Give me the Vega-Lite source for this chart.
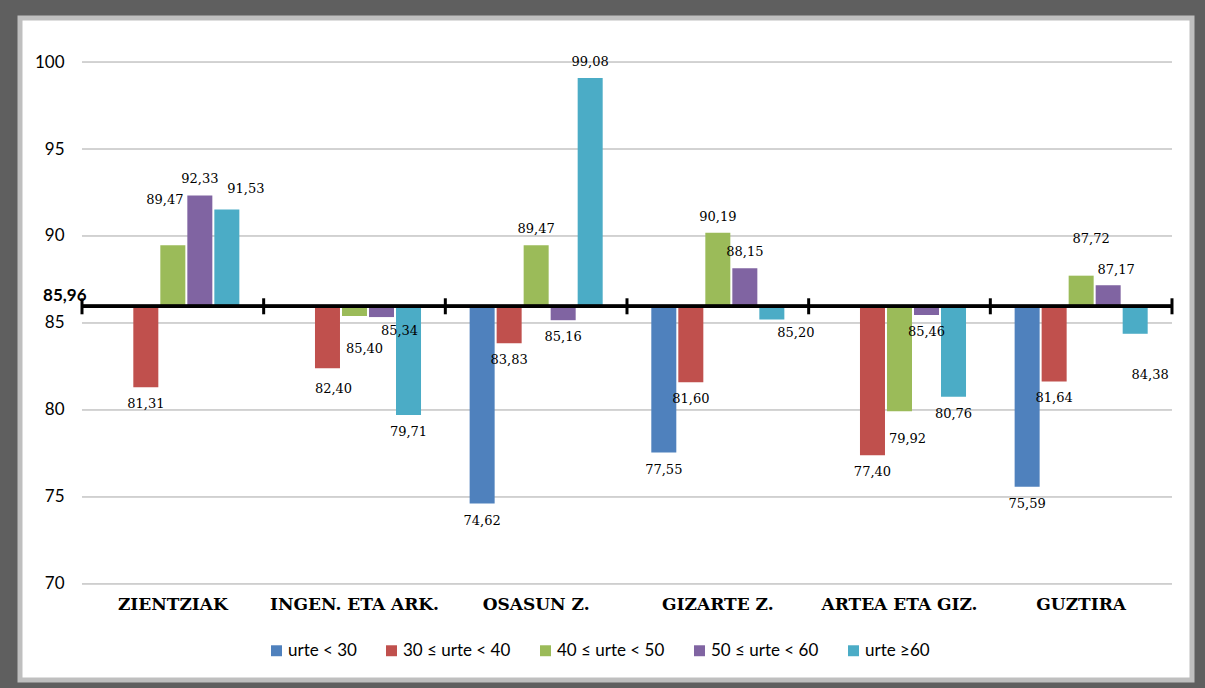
{
  "$schema": "https://vega.github.io/schema/vega-lite/v6.json",
  "width": 1172,
  "height": 662,
  "autosize": "none",
  "padding": {"left": 20, "top": 18, "right": 13, "bottom": 8},
  "background": "#5f5f5f",
  "config": {
    "view": {"fill": "white", "stroke": "#bfbfbf", "strokeWidth": 5},
    "locale": {"number": {"decimal": ",", "thousands": ".", "grouping": [3], "currency": ["", " €"]}},
    "font": "Lato",
    "text": {"font": "DejaVu Serif", "fontSize": 13, "color": "black", "baseline": "middle"}
  },
  "datasets": {
    "bars": [
      {"cat": "ZIENTZIAK", "series": "30 ≤ urte < 40", "v": 81.31},
      {"cat": "ZIENTZIAK", "series": "40 ≤ urte < 50", "v": 89.47},
      {"cat": "ZIENTZIAK", "series": "50 ≤ urte < 60", "v": 92.33},
      {"cat": "ZIENTZIAK", "series": "urte ≥60", "v": 91.53},
      {"cat": "INGEN. ETA ARK.", "series": "30 ≤ urte < 40", "v": 82.40},
      {"cat": "INGEN. ETA ARK.", "series": "40 ≤ urte < 50", "v": 85.40},
      {"cat": "INGEN. ETA ARK.", "series": "50 ≤ urte < 60", "v": 85.34},
      {"cat": "INGEN. ETA ARK.", "series": "urte ≥60", "v": 79.71},
      {"cat": "OSASUN Z.", "series": "urte < 30", "v": 74.62},
      {"cat": "OSASUN Z.", "series": "30 ≤ urte < 40", "v": 83.83},
      {"cat": "OSASUN Z.", "series": "40 ≤ urte < 50", "v": 89.47},
      {"cat": "OSASUN Z.", "series": "50 ≤ urte < 60", "v": 85.16},
      {"cat": "OSASUN Z.", "series": "urte ≥60", "v": 99.08},
      {"cat": "GIZARTE Z.", "series": "urte < 30", "v": 77.55},
      {"cat": "GIZARTE Z.", "series": "30 ≤ urte < 40", "v": 81.60},
      {"cat": "GIZARTE Z.", "series": "40 ≤ urte < 50", "v": 90.19},
      {"cat": "GIZARTE Z.", "series": "50 ≤ urte < 60", "v": 88.15},
      {"cat": "GIZARTE Z.", "series": "urte ≥60", "v": 85.20},
      {"cat": "ARTEA ETA GIZ.", "series": "30 ≤ urte < 40", "v": 77.40},
      {"cat": "ARTEA ETA GIZ.", "series": "40 ≤ urte < 50", "v": 79.92},
      {"cat": "ARTEA ETA GIZ.", "series": "50 ≤ urte < 60", "v": 85.46},
      {"cat": "ARTEA ETA GIZ.", "series": "urte ≥60", "v": 80.76},
      {"cat": "GUZTIRA", "series": "urte < 30", "v": 75.59},
      {"cat": "GUZTIRA", "series": "30 ≤ urte < 40", "v": 81.64},
      {"cat": "GUZTIRA", "series": "40 ≤ urte < 50", "v": 87.72},
      {"cat": "GUZTIRA", "series": "50 ≤ urte < 60", "v": 87.17},
      {"cat": "GUZTIRA", "series": "urte ≥60", "v": 84.38}
    ],
    "grid": [{"g": 70}, {"g": 75}, {"g": 80}, {"g": 85}, {"g": 90}, {"g": 95}, {"g": 100}],
    "cats": [{"cat": "ZIENTZIAK"}, {"cat": "INGEN. ETA ARK."}, {"cat": "OSASUN Z."}, {"cat": "GIZARTE Z."}, {"cat": "ARTEA ETA GIZ."}, {"cat": "GUZTIRA"}]
  },
  "layer": [
    {
      "data": {"name": "bars"},
      "mark": {"type": "bar", "opacity": 0},
      "encoding": {
        "x": {
          "field": "cat", "type": "nominal",
          "scale": {"domain": ["ZIENTZIAK", "INGEN. ETA ARK.", "OSASUN Z.", "GIZARTE Z.", "ARTEA ETA GIZ.", "GUZTIRA"], "paddingInner": 0, "paddingOuter": 0.2257, "align": 0.756},
          "axis": {"title": null, "orient": "bottom", "offset": -96, "domain": false, "ticks": false, "grid": false, "labelPadding": 12, "labelFont": "DejaVu Serif", "labelFontWeight": "bold", "labelFontSize": 17, "labelColor": "black", "labelAngle": 0, "labelLimit": 400, "labelOverlap": false}
        },
        "xOffset": {
          "field": "series", "type": "nominal",
          "scale": {"domain": ["urte < 30", "30 ≤ urte < 40", "40 ≤ urte < 50", "50 ≤ urte < 60", "urte ≥60"], "paddingInner": 0.074, "paddingOuter": 0.9}
        },
        "y": {
          "field": "v", "type": "quantitative",
          "scale": {"domain": [64.48, 102.53], "nice": false, "zero": false},
          "axis": {
            "title": null, "values": [70, 75, 80, 85, 85.96, 90, 95, 100], "offset": -62, "grid": false, "domain": false, "ticks": false,
            "labelOverlap": false, "labelFont": "Lato", "labelColor": "black",
            "labelExpr": "datum.value == 85.96 ? '85,96' : format(datum.value, 'd')",
            "labelFontSize": {"condition": {"test": "datum.value == 85.96", "value": 17}, "value": 17},
            "labelFontWeight": {"condition": {"test": "datum.value == 85.96", "value": "bold"}, "value": "normal"},
            "labelPadding": {"condition": {"test": "datum.value == 85.96", "value": -4}, "value": 18},
            "labelOffset": {"condition": {"test": "datum.value == 85.96", "value": -11}, "value": 0}
          }
        },
        "y2": {"datum": 85.96}
      }
    },
    {
      "data": {"name": "grid"},
      "mark": {"type": "rule", "color": "#a6a6a6", "strokeWidth": 1},
      "encoding": {
        "y": {"field": "g", "type": "quantitative"},
        "x": {"datum": "ZIENTZIAK", "type": "nominal", "bandPosition": 0},
        "x2": {"datum": "GUZTIRA", "bandPosition": 1}
      }
    },
    {
      "data": {"name": "bars"},
      "mark": {"type": "bar"},
      "encoding": {
        "x": {"field": "cat", "type": "nominal"},
        "xOffset": {"field": "series", "type": "nominal"},
        "y": {"field": "v", "type": "quantitative"},
        "y2": {"datum": 85.96},
        "color": {
          "field": "series", "type": "nominal",
          "scale": {"domain": ["urte < 30", "30 ≤ urte < 40", "40 ≤ urte < 50", "50 ≤ urte < 60", "urte ≥60"], "range": ["#4f81bd", "#c0504d", "#9bbb59", "#8064a2", "#4bacc6"]},
          "legend": {"orient": "none", "legendX": 248, "legendY": 624, "direction": "horizontal", "title": null, "symbolType": "square", "symbolSize": 120, "symbolStrokeWidth": 0, "labelFont": "Lato", "labelFontSize": 17, "labelColor": "black", "columnPadding": 26, "labelOffset": 3, "padding": 0}
        }
      }
    },
    {
      "data": {"name": "cats"},
      "mark": {"type": "rule", "color": "black", "strokeWidth": 3},
      "encoding": {
        "y": {"datum": 85.96, "type": "quantitative"},
        "x": {"datum": "ZIENTZIAK", "type": "nominal", "bandPosition": 0},
        "x2": {"datum": "GUZTIRA", "bandPosition": 1}
      }
    },
    {
      "data": {"name": "cats"},
      "mark": {"type": "rule", "color": "black", "strokeWidth": 3},
      "encoding": {
        "x": {"field": "cat", "type": "nominal", "bandPosition": 0},
        "y": {"datum": 85.5, "type": "quantitative"},
        "y2": {"datum": 86.42}
      }
    },
    {
      "data": {"name": "cats"},
      "transform": [{"filter": "datum.cat == 'GUZTIRA'"}],
      "mark": {"type": "rule", "color": "black", "strokeWidth": 3},
      "encoding": {
        "x": {"field": "cat", "type": "nominal", "bandPosition": 1},
        "y": {"datum": 85.5, "type": "quantitative"},
        "y2": {"datum": 86.42}
      }
    },
    {
      "data": {"name": "bars"},
      "transform": [{"filter": "datum.v > 85.96 && indexof(['ZIENTZIAK|urte ≥60', 'ZIENTZIAK|40 ≤ urte < 50', 'GUZTIRA|40 ≤ urte < 50', 'GUZTIRA|50 ≤ urte < 60'], datum.cat + '|' + datum.series) < 0"}],
      "mark": {"type": "text", "dy": -16},
      "encoding": {
        "x": {"field": "cat", "type": "nominal"},
        "xOffset": {"field": "series", "type": "nominal"},
        "y": {"field": "v", "type": "quantitative"},
        "text": {"field": "v", "type": "quantitative", "format": ".2f"}
      }
    },
    {
      "data": {"name": "bars"},
      "transform": [{"filter": "datum.v < 85.96 && indexof(['INGEN. ETA ARK.|30 ≤ urte < 40', 'INGEN. ETA ARK.|40 ≤ urte < 50', 'INGEN. ETA ARK.|50 ≤ urte < 60', 'ARTEA ETA GIZ.|40 ≤ urte < 50', 'GUZTIRA|urte ≥60', 'GIZARTE Z.|urte ≥60'], datum.cat + '|' + datum.series) < 0"}],
      "mark": {"type": "text", "dy": 17},
      "encoding": {
        "x": {"field": "cat", "type": "nominal"},
        "xOffset": {"field": "series", "type": "nominal"},
        "y": {"field": "v", "type": "quantitative"},
        "text": {"field": "v", "type": "quantitative", "format": ".2f"}
      }
    },
    {
      "data": {"name": "bars"},
      "transform": [{"filter": "datum.cat == 'ZIENTZIAK' && datum.series == 'urte ≥60'"}],
      "mark": {"type": "text", "dx": 19, "dy": -20},
      "encoding": {
        "x": {"field": "cat", "type": "nominal"},
        "xOffset": {"field": "series", "type": "nominal"},
        "y": {"field": "v", "type": "quantitative"},
        "text": {"field": "v", "type": "quantitative", "format": ".2f"}
      }
    },
    {
      "data": {"name": "bars"},
      "transform": [{"filter": "datum.cat == 'ZIENTZIAK' && datum.series == '40 ≤ urte < 50'"}],
      "mark": {"type": "text", "dx": -8, "dy": -45},
      "encoding": {
        "x": {"field": "cat", "type": "nominal"},
        "xOffset": {"field": "series", "type": "nominal"},
        "y": {"field": "v", "type": "quantitative"},
        "text": {"field": "v", "type": "quantitative", "format": ".2f"}
      }
    },
    {
      "data": {"name": "bars"},
      "transform": [{"filter": "datum.cat == 'GUZTIRA' && datum.series == '40 ≤ urte < 50'"}],
      "mark": {"type": "text", "dx": 10, "dy": -37},
      "encoding": {
        "x": {"field": "cat", "type": "nominal"},
        "xOffset": {"field": "series", "type": "nominal"},
        "y": {"field": "v", "type": "quantitative"},
        "text": {"field": "v", "type": "quantitative", "format": ".2f"}
      }
    },
    {
      "data": {"name": "bars"},
      "transform": [{"filter": "datum.cat == 'GUZTIRA' && datum.series == '50 ≤ urte < 60'"}],
      "mark": {"type": "text", "dx": 8, "dy": -15},
      "encoding": {
        "x": {"field": "cat", "type": "nominal"},
        "xOffset": {"field": "series", "type": "nominal"},
        "y": {"field": "v", "type": "quantitative"},
        "text": {"field": "v", "type": "quantitative", "format": ".2f"}
      }
    },
    {
      "data": {"name": "bars"},
      "transform": [{"filter": "datum.cat == 'INGEN. ETA ARK.' && datum.series == '30 ≤ urte < 40'"}],
      "mark": {"type": "text", "dx": 6, "dy": 21},
      "encoding": {
        "x": {"field": "cat", "type": "nominal"},
        "xOffset": {"field": "series", "type": "nominal"},
        "y": {"field": "v", "type": "quantitative"},
        "text": {"field": "v", "type": "quantitative", "format": ".2f"}
      }
    },
    {
      "data": {"name": "bars"},
      "transform": [{"filter": "datum.cat == 'INGEN. ETA ARK.' && datum.series == '40 ≤ urte < 50'"}],
      "mark": {"type": "text", "dx": 10, "dy": 33},
      "encoding": {
        "x": {"field": "cat", "type": "nominal"},
        "xOffset": {"field": "series", "type": "nominal"},
        "y": {"field": "v", "type": "quantitative"},
        "text": {"field": "v", "type": "quantitative", "format": ".2f"}
      }
    },
    {
      "data": {"name": "bars"},
      "transform": [{"filter": "datum.cat == 'INGEN. ETA ARK.' && datum.series == '50 ≤ urte < 60'"}],
      "mark": {"type": "text", "dx": 18, "dy": 14},
      "encoding": {
        "x": {"field": "cat", "type": "nominal"},
        "xOffset": {"field": "series", "type": "nominal"},
        "y": {"field": "v", "type": "quantitative"},
        "text": {"field": "v", "type": "quantitative", "format": ".2f"}
      }
    },
    {
      "data": {"name": "bars"},
      "transform": [{"filter": "datum.cat == 'ARTEA ETA GIZ.' && datum.series == '40 ≤ urte < 50'"}],
      "mark": {"type": "text", "dx": 8, "dy": 28},
      "encoding": {
        "x": {"field": "cat", "type": "nominal"},
        "xOffset": {"field": "series", "type": "nominal"},
        "y": {"field": "v", "type": "quantitative"},
        "text": {"field": "v", "type": "quantitative", "format": ".2f"}
      }
    },
    {
      "data": {"name": "bars"},
      "transform": [{"filter": "datum.cat == 'GUZTIRA' && datum.series == 'urte ≥60'"}],
      "mark": {"type": "text", "dx": 15, "dy": 41},
      "encoding": {
        "x": {"field": "cat", "type": "nominal"},
        "xOffset": {"field": "series", "type": "nominal"},
        "y": {"field": "v", "type": "quantitative"},
        "text": {"field": "v", "type": "quantitative", "format": ".2f"}
      }
    },
    {
      "data": {"name": "bars"},
      "transform": [{"filter": "datum.cat == 'GIZARTE Z.' && datum.series == 'urte ≥60'"}],
      "mark": {"type": "text", "dx": 24, "dy": 13},
      "encoding": {
        "x": {"field": "cat", "type": "nominal"},
        "xOffset": {"field": "series", "type": "nominal"},
        "y": {"field": "v", "type": "quantitative"},
        "text": {"field": "v", "type": "quantitative", "format": ".2f"}
      }
    }
  ]
}
